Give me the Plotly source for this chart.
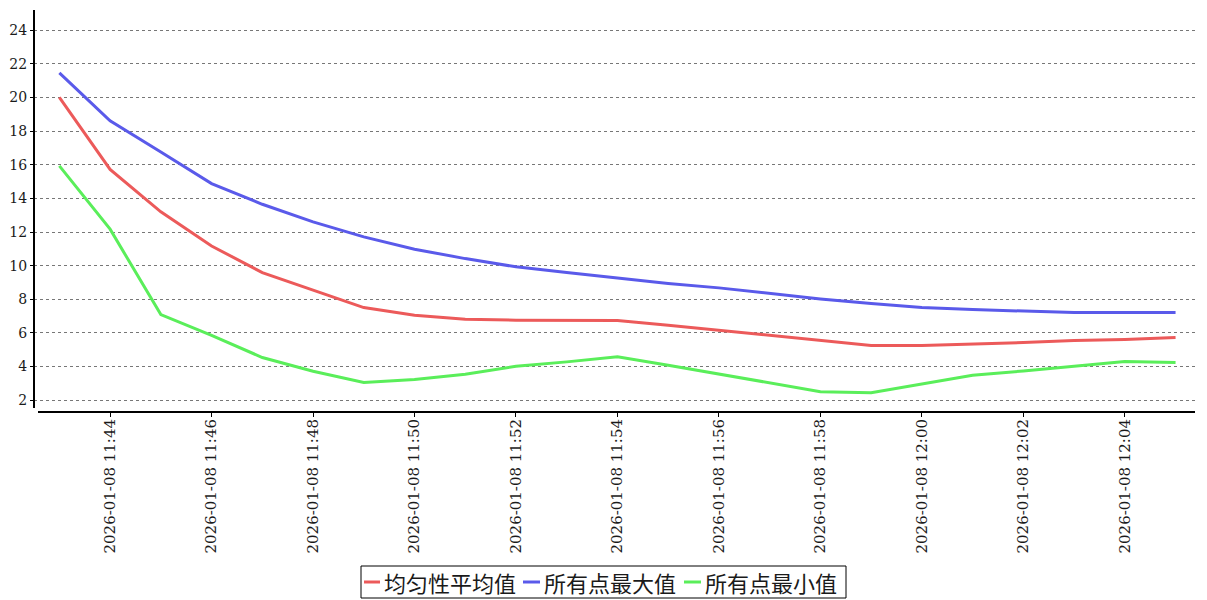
import plotly.graph_objects as go

times = [
    "2026-01-08 11:43", "2026-01-08 11:44", "2026-01-08 11:45", "2026-01-08 11:46",
    "2026-01-08 11:47", "2026-01-08 11:48", "2026-01-08 11:49", "2026-01-08 11:50",
    "2026-01-08 11:51", "2026-01-08 11:52", "2026-01-08 11:53", "2026-01-08 11:54",
    "2026-01-08 11:55", "2026-01-08 11:56", "2026-01-08 11:57", "2026-01-08 11:58",
    "2026-01-08 11:59", "2026-01-08 12:00", "2026-01-08 12:01", "2026-01-08 12:02",
    "2026-01-08 12:03", "2026-01-08 12:04", "2026-01-08 12:05",
]
avg_vals = [20.0, 15.72, 13.2, 11.17, 9.59, 8.54, 7.51, 7.05, 6.82, 6.76, 6.76, 6.74,
            6.46, 6.16, 5.86, 5.53, 5.25, 5.25, 5.33, 5.43, 5.55, 5.61, 5.73]
max_vals = [21.46, 18.61, 16.76, 14.88, 13.65, 12.6, 11.71, 10.98, 10.42, 9.93, 9.59, 9.28,
            8.94, 8.68, 8.34, 8.02, 7.75, 7.51, 7.39, 7.31, 7.21, 7.21, 7.21]
min_vals = [15.93, 12.17, 7.09, 5.86, 4.54, 3.72, 3.05, 3.23, 3.55, 4.02, 4.28, 4.58,
            4.08, 3.55, 3.03, 2.51, 2.45, 2.99, 3.49, 3.74, 4.02, 4.3, 4.24]
series_names = ["均匀性平均值", "所有点最大值", "所有点最小值"]
tick_labels = [
    "2026-01-08 11:44", "2026-01-08 11:46", "2026-01-08 11:48", "2026-01-08 11:50",
    "2026-01-08 11:52", "2026-01-08 11:54", "2026-01-08 11:56", "2026-01-08 11:58",
    "2026-01-08 12:00", "2026-01-08 12:02", "2026-01-08 12:04",
]
y_ticks = [2, 4, 6, 8, 10, 12, 14, 16, 18, 20, 22, 24]

colors = ["#ec5a5a", "#5a5aea", "#5aee5a"]
y_tick_font = dict(family="DejaVu Serif, serif", size=14, color="#1a1a1a")
x_tick_font = dict(family="DejaVu Serif, serif", size=15, color="#1a1a1a")

# the page body has an 8px margin, so the figure is placed at (8, 8)
OFF = 8
W, H = 1199, 592
L, R, T, B = 26, 12, 2, 188
PW, PH = W - L - R, H - T - B


def px(xp):
    # xp: page pixel x
    return (xp - OFF - L) / PW


def py(yp):
    # yp: page pixel y
    return (H - B - (yp - OFF)) / PH


fig = go.Figure()
for name, vals, col in zip(series_names, [avg_vals, max_vals, min_vals], colors):
    fig.add_trace(go.Scatter(x=times, y=vals, mode="lines", name=name,
                             line=dict(color=col, width=3)))

shapes = [
    dict(type="line", xref="paper", yref="paper", x0=0, x1=0, y0=py(408), y1=1,
         line=dict(color="black", width=2)),
    dict(type="line", xref="paper", yref="paper", x0=px(38), x1=1.0, y0=0, y1=0,
         line=dict(color="black", width=2)),
    # legend box
    dict(type="rect", xref="paper", yref="paper", x0=px(361), x1=px(846),
         y0=py(598), y1=py(566), line=dict(color="black", width=1), fillcolor="white"),
]
annotations = []
legend_items = [(364, 380, 382), (523, 540, 542), (684, 701, 703)]
for (lx0, lx1, tx), name, col in zip(legend_items, series_names, colors):
    shapes.append(dict(type="line", xref="paper", yref="paper", x0=px(lx0), x1=px(lx1),
                       y0=py(582), y1=py(582), line=dict(color=col, width=3)))
    annotations.append(dict(xref="paper", yref="paper", x=px(tx), y=py(582),
                            xanchor="left", yanchor="middle", text=name, showarrow=False,
                            font=dict(family="Noto Sans CJK SC", size=22, color="#1a1a1a")))

fig.update_layout(
    width=W, height=H,
    margin=dict(l=L, r=R, t=T, b=B),
    paper_bgcolor="white", plot_bgcolor="white",
    showlegend=False,
    xaxis=dict(
        range=["2026-01-08 11:42:30", "2026-01-08 12:05:23"],
        tickvals=tick_labels, ticktext=tick_labels, tickangle=-90,
        ticks="outside", ticklen=4, tickcolor="black", tickwidth=1,
        ticklabelstandoff=-4,
        showgrid=False, showline=False, zeroline=False, automargin=False,
        tickfont=x_tick_font,
    ),
    yaxis=dict(
        range=[1.3, 25.2], tickvals=y_ticks,
        ticks="outside", ticklen=3, tickcolor="black", tickwidth=1,
        showgrid=True, gridcolor="#777777", griddash="dot", gridwidth=1,
        showline=False, zeroline=False, automargin=False,
        tickfont=y_tick_font,
    ),
    shapes=shapes,
    annotations=annotations,
)

fig.write_html("out.html")
